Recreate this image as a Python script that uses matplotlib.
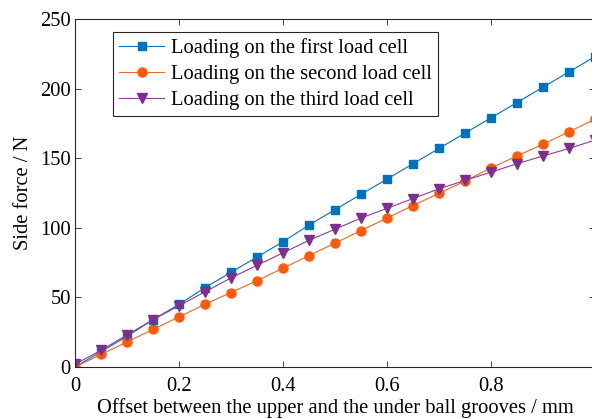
import matplotlib
matplotlib.use("Agg")
import matplotlib.pyplot as plt

plt.rcParams['font.family'] = ['Liberation Serif', 'DejaVu Serif']

# offsets (mm) and measured side forces (N)
offset = [0.0, 0.05, 0.1, 0.15, 0.2, 0.25, 0.3, 0.35, 0.4, 0.45, 0.5,
          0.55, 0.6, 0.65, 0.7, 0.75, 0.8, 0.85, 0.9, 0.95, 1.0]
force_first = [0, 11, 22, 34, 45, 57, 68, 79, 90, 102, 113,
               124, 135, 146, 157, 168, 179, 190, 201, 212, 223]
force_second = [0, 9, 18, 27, 36, 45, 53.5, 62, 71, 80, 89,
                98, 107, 116, 124.7, 133.6, 143, 151.6, 160, 169, 178]
force_third = [2, 12, 23, 34, 44, 54, 64, 73, 82, 91, 99,
               107, 114, 121, 128, 134, 140, 146, 151.6, 157, 163]

labels = ['Loading on the first load cell',
          'Loading on the second load cell',
          'Loading on the third load cell']
xtick_vals = [0, 0.2, 0.4, 0.6, 0.8]
xtick_labels = ['0', '0.2', '0.4', '0.6', '0.8']
ytick_vals = [0, 50, 100, 150, 200, 250]

fs = 14.8
fig = plt.figure(figsize=(5.92, 4.19), dpi=100)
ax = fig.add_axes([75 / 592, 52 / 419, 520 / 592, 348 / 419])

ax.plot(offset, force_first, color='#0072BD', lw=0.8, marker='s', ms=5.5,
        mfc='#0072BD', mec='#0072BD', label=labels[0])
ax.plot(offset, force_second, color='#F26522', lw=0.8, marker='o', ms=6.5,
        mfc='#FF5A0A', mec='#FF5A0A', label=labels[1])
ax.plot(offset, force_third, color='#8E3A9E', lw=0.8, marker='v', ms=6.5,
        mfc='#7E2F8E', mec='#7E2F8E', label=labels[2])

ax.set_xlim(0, 1)
ax.set_ylim(0, 250)
ax.set_xticks(xtick_vals)
ax.set_xticklabels(xtick_labels)
ax.set_yticks(ytick_vals)
ax.tick_params(direction='in', top=True, right=True, length=4, width=0.6,
               color='#262626', labelsize=fs)
ax.tick_params(axis='x', pad=7)
ax.tick_params(axis='y', pad=3)
for sp in ax.spines.values():
    sp.set_linewidth(0.8)
    sp.set_color('#262626')

ax.set_xlabel('Offset between the upper and the under ball grooves / mm',
              fontsize=fs, labelpad=2)
ax.set_ylabel('Side force / N', fontsize=fs, labelpad=5)

leg = ax.legend(loc='upper left', bbox_to_anchor=(0.073, 0.9635),
                borderaxespad=0, fontsize=fs, fancybox=False,
                edgecolor='#262626', framealpha=1, handlelength=2.2,
                handletextpad=0.3, labelspacing=0.32, borderpad=0.3)
leg.get_frame().set_linewidth(0.8)

fig.savefig('out.png', dpi=100)
